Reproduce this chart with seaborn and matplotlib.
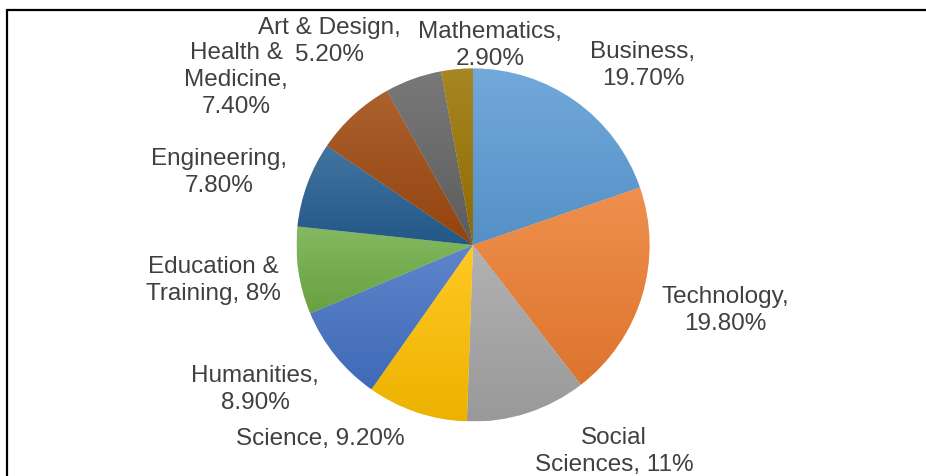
import numpy as np
import matplotlib
matplotlib.use("Agg")
import matplotlib.pyplot as plt
import matplotlib.colors as mcolors
from matplotlib.lines import Line2D
import seaborn as sns

categories = ["Business", "Technology", "Social Sciences", "Science", "Humanities",
              "Education & Training", "Engineering", "Health & Medicine",
              "Art & Design", "Mathematics"]
values = [19.7, 19.8, 11.0, 9.2, 8.9, 8.0, 7.8, 7.4, 5.2, 2.9]
label_texts = ["Business,\n19.70%", "Technology,\n19.80%", "Social\nSciences, 11%",
               "Science, 9.20%", "Humanities,\n8.90%", "Education &\nTraining, 8%",
               "Engineering,\n7.80%", "Health &\nMedicine,\n7.40%",
               "Art & Design,\n5.20%", "Mathematics,\n2.90%"]
colors = ["#5B9BD5", "#ED7D31", "#A5A5A5", "#FFC000", "#4472C4",
          "#70AD47", "#255E91", "#9E480E", "#636363", "#997300"]

# label layout (pixel centre of each label block, from top-left of figure)
label_pos = [(643, 64), (725, 309), (614, 450), (320, 437), (255, 388),
             (213, 279), (219, 171), (236, 78.5), (329, 40), (490, 44)]
LINE_GAP = 27  # px between baselines

sns.set_theme(style="white")
plt.rcParams['font.family'] = ['Liberation Sans', 'DejaVu Sans']

W, H = 926, 476
fig = plt.figure(figsize=(W / 100, H / 100), dpi=100)
ax = fig.add_axes([0, 0, 1, 1])

cx, cy, R = 473, H - 245, 176.5
wedges, _ = ax.pie(values, colors=colors, startangle=90, counterclock=False,
                   center=(cx, cy), radius=R, frame=True,
                   wedgeprops=dict(linewidth=0.4, edgecolor="#FFFFFF"))
ax.set_xlim(0, W)
ax.set_ylim(0, H)
ax.set_aspect('equal')
ax.axis('off')

# subtle gradient inside each wedge (lighter top, darker bottom)
for w, c in zip(wedges, colors):
    rgb = np.array(mcolors.to_rgb(c))
    top = rgb + (1 - rgb) * 0.14
    bot = rgb * 0.93
    bb = w.get_path().get_extents(w.get_patch_transform())
    t = np.linspace(0, 1, 64)[:, None]
    grad = top[None, :] * (1 - t) + bot[None, :] * t
    img = ax.imshow(grad[:, None, :], extent=(bb.x0, bb.x1, bb.y0, bb.y1),
                    origin='upper', aspect='auto', zorder=w.get_zorder() + 0.1,
                    interpolation='bilinear')
    img.set_clip_path(w)

ax.set_xlim(0, W)
ax.set_ylim(0, H)

for txt, (px, py) in zip(label_texts, label_pos):
    lines = txt.split("\n")
    n = len(lines)
    first_base = py - (n - 1) * LINE_GAP / 2 + 7.5
    for i, line in enumerate(lines):
        ax.text(px, H - (first_base + i * LINE_GAP), line, ha='center', va='baseline',
                fontsize=17.5, color='#404040')

# chart frame (top and left edges visible)
fig.add_artist(Line2D([7 / W, 1], [1 - 10 / H, 1 - 10 / H], transform=fig.transFigure,
                      color='black', linewidth=1.6))
fig.add_artist(Line2D([7 / W, 7 / W], [0, 1 - 10 / H], transform=fig.transFigure,
                      color='black', linewidth=1.6))

fig.savefig("out.png", dpi=100, facecolor='white')
